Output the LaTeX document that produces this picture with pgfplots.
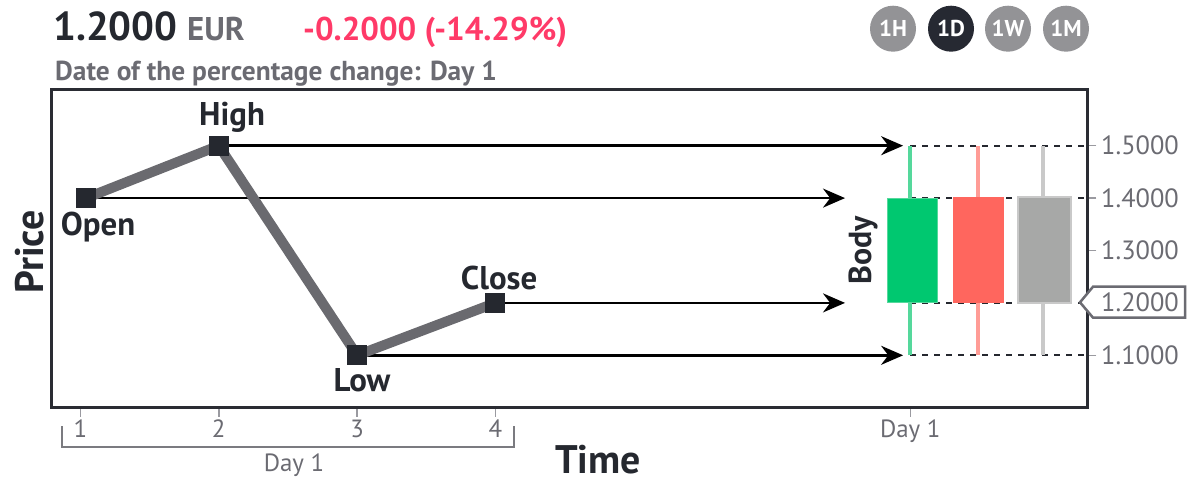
\documentclass[border=0pt]{standalone}
\usepackage{fontspec}
\setmainfont{PT Sans}
\usepackage{pgfplots}
\pgfplotsset{compat=1.18}
\usetikzlibrary{arrows.meta}
\definecolor{darkc}{HTML}{25282F}
\definecolor{axisc}{HTML}{2A2C33}
\definecolor{graytxt}{HTML}{6B6B72}
\definecolor{tickc}{HTML}{9A9AA0}
\definecolor{redtxt}{HTML}{FF3A68}
\definecolor{linec}{HTML}{6A6A6F}
\definecolor{greenb}{HTML}{00C870}
\definecolor{greenw}{HTML}{55D89C}
\definecolor{redb}{HTML}{FF665E}
\definecolor{redw}{HTML}{FF9C96}
\definecolor{grayb}{HTML}{A7A8A7}
\definecolor{grayw}{HTML}{C9C9C9}
\definecolor{btngray}{HTML}{939396}
\definecolor{btndark}{HTML}{262932}
\begin{document}
\begin{tikzpicture}
\path[use as bounding box] (0,0) rectangle (1200bp,-487bp);
\begin{axis}[
  at={(51.7bp,-407.7bp)}, anchor=south west,
  scale only axis, width=1035.6bp, height=318.4bp,
  xmin=0.792, xmax=8.28, ymin=1.0, ymax=1.6076,
  clip=false,
  axis line style={line width=2.5bp, draw=axisc},
  xtick={1,2,3,4,7}, xticklabels={1,2,3,4,Day 1},
  ytick={1.1,1.2,1.3,1.4,1.5}, yticklabels={1.1000,,1.3000,1.4000,1.5000},
  xtick pos=bottom, ytick pos=right, yticklabel pos=right,
  tick align=outside, major tick length=9bp,
  tick style={draw=tickc, line width=1.5bp},
  xticklabel style={font=\fontsize{25}{29}\selectfont, text=graytxt, anchor=north, inner sep=0pt, yshift=-3.3bp},
  yticklabel style={font=\fontsize{26.5}{30}\selectfont, text=graytxt, anchor=west, inner sep=0pt, xshift=4.7bp},
]
% dashed guides
\addplot[darkc, line width=2bp, dash pattern=on 6bp off 6bp] coordinates {(7,1.5) (8.28,1.5)};
\addplot[darkc, line width=2bp, dash pattern=on 6bp off 6bp] coordinates {(7,1.4) (8.28,1.4)};
\addplot[darkc, line width=2bp, dash pattern=on 6bp off 6bp] coordinates {(7,1.2) (8.28,1.2)};
\addplot[darkc, line width=2bp, dash pattern=on 6bp off 6bp] coordinates {(7,1.1) (8.28,1.1)};
% arrows
\addplot[black, line width=2.5bp, -{Stealth[length=22bp,width=19bp]}] coordinates {(2,1.5) (6.948,1.5)};
\addplot[black, line width=2.5bp, -{Stealth[length=22bp,width=19bp]}] coordinates {(1.04,1.4) (6.528,1.4)};
\addplot[black, line width=2.5bp, -{Stealth[length=22bp,width=19bp]}] coordinates {(4,1.2) (6.528,1.2)};
\addplot[black, line width=2.5bp, -{Stealth[length=22bp,width=19bp]}] coordinates {(3,1.1) (6.948,1.1)};
% price path
\addplot[linec, line width=10bp, mark=square*, mark size=9.5bp,
  mark options={fill=darkc, draw=darkc, line width=0pt}] coordinates {(1.04,1.4) (2,1.5) (3,1.1) (4,1.2)};
% wicks
\addplot[greenw, line width=4bp] coordinates {(7,1.1) (7,1.5)};
\addplot[redw, line width=4bp] coordinates {(7.486,1.1) (7.486,1.5)};
\addplot[grayw, line width=4bp] coordinates {(7.96,1.1) (7.96,1.5)};
% bodies
\addplot[fill=greenb, draw=greenw, line width=1bp] coordinates {(6.835,1.2) (7.199,1.2) (7.199,1.4) (6.835,1.4)} -- cycle;
\addplot[fill=redb, draw=redb, line width=1bp] coordinates {(7.312,1.2) (7.676,1.2) (7.676,1.402) (7.312,1.402)} -- cycle;
\addplot[fill=grayb, draw=grayw, line width=1.5bp] coordinates {(7.778,1.2) (8.161,1.2) (8.161,1.402) (7.778,1.402)} -- cycle;
% labels
\node[rotate=90, font=\bfseries\fontsize{32}{36}\selectfont, text=darkc] at (axis cs:6.659,1.3) {Body};
\node[font=\bfseries\fontsize{33}{37}\selectfont, text=darkc] at (axis cs:2.096,1.555) {High};
\node[font=\bfseries\fontsize{33}{37}\selectfont, text=darkc] at (axis cs:1.127,1.345) {Open};
\node[font=\bfseries\fontsize{33}{37}\selectfont, text=darkc] at (axis cs:3.035,1.052) {Low};
\node[font=\bfseries\fontsize{33}{37}\selectfont, text=darkc] at (axis cs:4.027,1.248) {Close};
\end{axis}
% price tag
\draw[fill=white, draw=graytxt, line width=2.5bp] (1080bp,-302.3bp) -- (1093bp,-286.7bp) -- (1185bp,-286.7bp) -- (1185bp,-317.7bp) -- (1093bp,-317.7bp) -- cycle;
\node[anchor=west, inner sep=0pt, font=\fontsize{26.5}{30}\selectfont, text=graytxt] at (1101bp,-302.3bp) {1.2000};
% axis titles
\node[rotate=90, font=\bfseries\fontsize{40}{44}\selectfont, text=darkc] at (30bp,-252bp) {Price};
\node[font=\bfseries\fontsize{40}{44}\selectfont, text=darkc] at (598bp,-460bp) {Time};
% bracket
\draw[tickc!80!black, line width=2bp] (62bp,-426bp) -- (62bp,-447bp) -- (514bp,-447bp) -- (514bp,-426bp);
\node[anchor=base, inner sep=0pt, font=\fontsize{25}{29}\selectfont, text=graytxt] at (294bp,-471bp) {Day 1};
% header
\node[anchor=base west, inner sep=0pt, font=\bfseries\fontsize{40.5}{44}\selectfont, text=darkc] at (53bp,-40bp) {1.2000};
\node[anchor=base west, inner sep=0pt, font=\bfseries\fontsize{33}{37}\selectfont, text=graytxt] at (187bp,-40bp) {EUR};
\node[anchor=base west, inner sep=0pt, font=\bfseries\fontsize{33}{37}\selectfont, text=redtxt] at (303bp,-40bp) {-0.2000 (-14.29\%)};
\node[anchor=base west, inner sep=0pt, font=\bfseries\fontsize{27.5}{31}\selectfont, text=graytxt] at (55bp,-80bp) {Date of the percentage change: Day 1};
% buttons
\fill[btngray] (893bp,-28.7bp) circle (23bp);
\fill[btndark] (951bp,-28.7bp) circle (23bp);
\fill[btngray] (1008bp,-28.7bp) circle (23bp);
\fill[btngray] (1066bp,-28.7bp) circle (23bp);
\node[font=\bfseries\fontsize{23}{27}\selectfont, text=white] at (893bp,-28.7bp) {1H};
\node[font=\bfseries\fontsize{23}{27}\selectfont, text=white] at (951bp,-28.7bp) {1D};
\node[font=\bfseries\fontsize{23}{27}\selectfont, text=white] at (1008bp,-28.7bp) {1W};
\node[font=\bfseries\fontsize{23}{27}\selectfont, text=white] at (1066bp,-28.7bp) {1M};
\end{tikzpicture}
\end{document}
